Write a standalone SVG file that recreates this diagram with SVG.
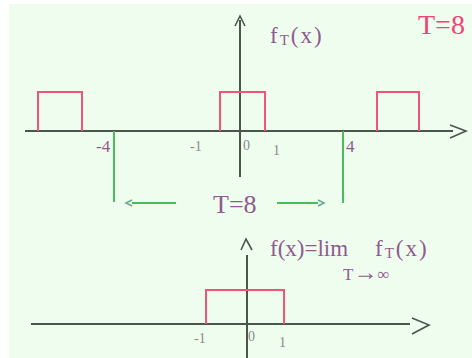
<svg xmlns="http://www.w3.org/2000/svg" width="472" height="358" viewBox="0 0 472 358">
<style>
.axis{stroke:#4a564a;stroke-width:2;fill:none}
.head{stroke:#4a564a;stroke-width:1.6;fill:none}
.pulse{stroke:#ee5577;stroke-width:2;fill:none}
.grn{stroke:#4cbb5a;stroke-width:2;fill:none}
.gh{stroke:#6aa890;stroke-width:1.6;fill:none}
.pt{font-family:"Liberation Serif",serif;fill:#8f5a8f}
.gt{font-family:"Liberation Serif",serif;fill:#8a8a8a;font-size:14px}
</style>
<rect x="0" y="0" width="472" height="358" fill="#ffffff"/>
<rect x="9" y="4" width="463" height="354" fill="#effdef"/>
<g id="connectors">
<line class="axis" x1="25" y1="131" x2="453" y2="131"/>
<polyline class="head" points="450,125 466,131 450,138"/>
<line class="axis" x1="240" y1="20" x2="240" y2="177"/>
<polyline class="head" points="235,26 240,16 245,26"/>
<line class="grn" x1="114" y1="131" x2="114" y2="202"/>
<line class="grn" x1="343" y1="131" x2="343" y2="203"/>
<line class="grn" x1="132" y1="203" x2="176" y2="203"/>
<polyline class="gh" points="132,200 126,203 132,206"/>
<line class="grn" x1="277" y1="203" x2="318" y2="203"/>
<polyline class="gh" points="318,200 324,203 318,206"/>
<line class="axis" x1="31" y1="324" x2="410" y2="324"/>
<polyline class="head" points="412,318 429,325 412,334"/>
<line class="axis" x1="247" y1="255" x2="247" y2="358"/>
<polyline class="head" points="241,250 246,239 252,250"/>
</g>
<g id="pulses-top">
<polyline class="pulse" points="38,131 38,92 82,92 82,131"/>
<polyline class="pulse" points="220,131 220,92 265,92 265,131"/>
<polyline class="pulse" points="377,131 377,92 419,92 419,131"/>
</g>
<g id="pulse-bottom">
<polyline class="pulse" points="206,324 206,290 284,290 284,324"/>
</g>
<g id="labels-top">
<text class="pt" x="270" y="43" font-size="23" letter-spacing="2">f<tspan font-size="15" dy="2">T</tspan><tspan dy="-2">(x)</tspan></text>
<text x="418" y="34" font-family="Liberation Serif,serif" font-size="28" fill="#ee4477">T=8</text>
<text class="pt" x="96" y="152" font-size="17">-4</text>
<text class="pt" x="346" y="152" font-size="17">4</text>
<text class="gt" x="190" y="151">-1</text>
<text class="gt" x="243" y="150">0</text>
<text class="gt" x="273" y="155">1</text>
<text class="pt" x="213" y="213" font-size="26">T=8</text>
</g>
<g id="labels-bottom">
<text class="pt" x="270" y="256" font-size="23">f(x)=lim</text>
<text class="pt" x="375" y="256" font-size="23" letter-spacing="2">f<tspan font-size="15" dy="2">T</tspan><tspan dy="-2">(x)</tspan></text>
<text class="pt" x="343" y="280" font-size="17">T<tspan font-size="24">→</tspan>∞</text>
<text class="gt" x="194" y="343">-1</text>
<text class="gt" x="248" y="341">0</text>
<text class="gt" x="279" y="347">1</text>
</g>
</svg>
